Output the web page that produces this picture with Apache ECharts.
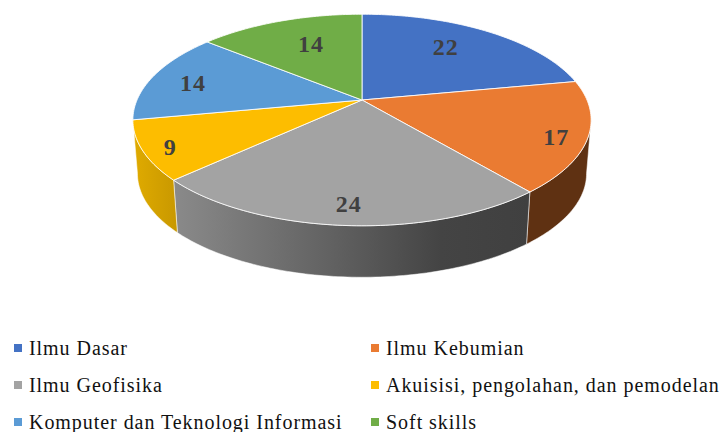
<!DOCTYPE html>
<html>
<head>
<meta charset="utf-8">
<style>html,body{margin:0;padding:0;background:#fff}#c{width:721px;height:432px}#c text{letter-spacing:0.95px}</style>
<script src="https://cdn.jsdelivr.net/npm/echarts@6/dist/echarts.min.js"></script>
</head>
<body>
<div id="c"></div>
<script>
const categories = ['Ilmu Dasar','Ilmu Kebumian','Ilmu Geofisika','Akuisisi, pengolahan, dan pemodelan','Komputer dan Teknologi Informasi','Soft skills'];
const values = [22,17,24,9,14,14];
const topColors = ['#4472c4','#ea7b32','#a3a3a3','#fdbd00','#5b9bd5','#70ad47'];
const wallStops = [
  null,
  [[0,'#5f3112'],[1,'#5f3112']],
  [[0,'#8a8a8a'],[0.5,'#5c5c5c'],[0.75,'#444444'],[1,'#404040']],
  [[0,'#e0ab00'],[1,'#c89800']],
  null,
  null
];
const labelReach = [0.68,0.85,0.85,0.88,0.8,0.65];
const labelDx = [-5,4,1,-1,-1,5];
const labelDy = [-4,6,1,3,3,-2];

// projected disc geometry
const CX=362, CY=100, RX=225, RY=102, K=0.189, DEPTH=54, LOWER=0.98, WALL_FROM=100.9;
const total = values.reduce((a,b)=>a+b,0);
function proj(deg,r,lower){
  const t=deg*Math.PI/180, u=r*Math.sin(t), v=-r*Math.cos(t), d=1-K*v, s=lower?LOWER:1;
  return [CX+s*RX*u/d, CY+(lower?DEPTH:0)+s*RY*v/d];
}
function arc(a,b,r,lower){
  const pts=[], n=Math.max(2,Math.ceil(Math.abs(b-a)));
  for(let i=0;i<=n;i++) pts.push(proj(a+(b-a)*i/n,r,lower));
  return pts;
}
function renderSlice(idx){
  return function(params,api){
    const before=values.slice(0,idx).reduce((a,b)=>a+b,0);
    const a=before/total*360, b=(before+api.value(0))/total*360;
    const mid=(a+b)/2, lp=proj(mid,labelReach[idx],false);
    const children=[];
    if(wallStops[idx]){
      const wa=Math.max(a,WALL_FROM);
      children.push({type:'polygon',z2:1,shape:{points:arc(wa,b,1,false).concat(arc(wa,b,1,true).reverse())},style:{
        fill:new echarts.graphic.LinearGradient(0,0,1,0,wallStops[idx].map(s=>({offset:s[0],color:s[1]}))),
        stroke:'rgba(255,255,255,0.65)',lineWidth:0.8,lineJoin:'round'}});
    }
    children.push({type:'polygon',z2:2,shape:{points:[[CX,CY]].concat(arc(a,b,1,false))},style:{
      fill:topColors[idx],stroke:'rgba(255,255,255,0.85)',lineWidth:1,lineJoin:'round'}});
    children.push({type:'text',z2:3,x:lp[0]+labelDx[idx],y:lp[1]+labelDy[idx],style:{
      text:String(api.value(0)),fill:'#404040',align:'center',verticalAlign:'middle',
      font:'bold 24px "Liberation Serif"'}});
    return {type:'group',children};
  };
}
const legendBase={orient:'vertical',icon:'rect',itemWidth:8,itemHeight:8,itemGap:17,
  selectedMode:false,padding:0,
  textStyle:{fontFamily:'Liberation Serif',fontSize:20,color:'#111111',padding:[0,0,0,2]}};
const chart=echarts.init(document.getElementById('c'),null,{renderer:'svg'});
chart.setOption({
  animation:false,
  backgroundColor:'#fff',
  legend:[
    Object.assign({},legendBase,{left:14,top:338,data:[categories[0],categories[2],categories[4]]}),
    Object.assign({},legendBase,{left:371,top:338,data:[categories[1],categories[3],categories[5]]})
  ],
  series:categories.map((name,i)=>({
    type:'custom',name,coordinateSystem:'none',silent:true,
    itemStyle:{color:topColors[i]},
    renderItem:renderSlice(i),
    data:[[values[i]]]
  }))
});
</script>
</body>
</html>
